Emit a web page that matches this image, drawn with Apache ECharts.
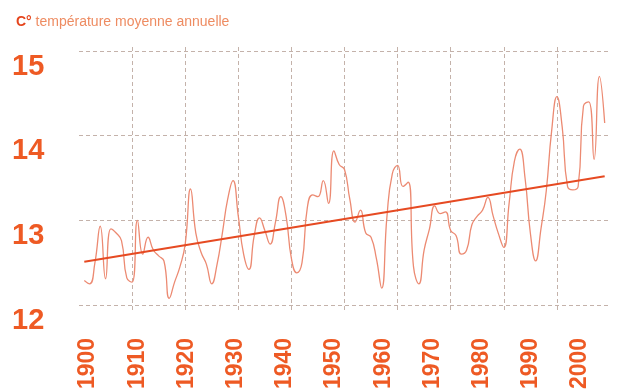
<!DOCTYPE html>
<html><head><meta charset="utf-8">
<script src="https://cdn.jsdelivr.net/npm/echarts@6/dist/echarts.min.js"></script>
<style>html,body{margin:0;padding:0;background:#fff}#c{width:619px;height:392px}</style>
</head><body><div id="c"></div>
<script>
// ---- data ----
const titleUnit = 'C°';
const titleText = ' température moyenne annuelle';
const firstYear = 1901;
const temps = [
  12.29, 12.25, 12.50, 12.93, 12.31, 12.90, 12.85, 12.76, 12.32, 12.27, // 1901-1910
  13.00, 12.60, 12.80, 12.65, 12.58, 12.52, 12.08, 12.27, 12.45, 12.72, // 1911-1920
  13.37, 12.85, 12.62, 12.48, 12.25, 12.48, 12.85, 13.25, 13.47, 13.05, // 1921-1930
  12.60, 12.42, 12.82, 13.03, 12.88, 12.72, 12.98, 13.28, 13.05, 12.55, // 1931-1940
  12.38, 12.50, 13.15, 13.30, 13.28, 13.47, 13.20, 13.82, 13.66, 13.60, // 1941-1950
  13.25, 12.98, 13.12, 12.85, 12.80, 12.55, 12.20, 13.05, 13.55, 13.65, // 1951-1960
  13.40, 13.45, 12.45, 12.25, 12.65, 12.90, 13.17, 13.08, 13.10, 12.88, // 1961-1970
  12.82, 12.60, 12.65, 12.95, 13.05, 13.12, 13.27, 13.05, 12.84, 12.68, // 1971-1980
  13.20, 13.70, 13.84, 13.50, 12.85, 12.52, 12.90, 13.35, 14.05, 14.46, // 1981-1990
  14.10, 13.40, 13.36, 13.40, 14.35, 14.40, 13.72, 14.70, 14.15         // 1991-1999
];
const trendYears = [1901, 1999];
const trendValues = [12.51, 13.52];
const xMin = 1900, xMax = 2000, xStep = 10;
const yMin = 12, yMax = 15, yStep = 1;

// ---- build ----
const years = temps.map((_, i) => firstYear + i);
const series1 = years.map((y, i) => [y, temps[i]]);
const trend = trendYears.map((y, i) => [y, trendValues[i]]);

const ORANGE = '#EE5A24';
const GRID = '#C4B2AA';
const chart = echarts.init(document.getElementById('c'), null, {renderer: 'canvas'});
chart.setOption({
  animation: false,
  backgroundColor: '#ffffff',
  title: {
    left: 11, top: 10,
    text: '{a|' + titleUnit + '}{b|' + titleText + '}',
    textStyle: {
      fontWeight: 'normal',
      rich: {
        a: {fontFamily: 'Liberation Sans, sans-serif', fontWeight: 'bold', fontSize: 14, color: '#E5441C'},
        b: {fontFamily: 'Liberation Sans, sans-serif', fontWeight: 'normal', fontSize: 14, color: '#EE8C62'}
      }
    }
  },
  grid: [
    {left: 79, right: 9, top: 51, bottom: 87},   // data + horizontal lines
    {left: 79, right: 9, top: 47, bottom: 80},   // vertical lines
    {left: 88, right: 39, top: 51, bottom: 87}   // x labels
  ],
  xAxis: [
    {gridIndex: 0, type: 'value', min: xMin, max: xMax, interval: xStep, show: false},
    {gridIndex: 1, type: 'value', min: xMin, max: xMax, interval: xStep,
      axisLine: {show: false}, axisTick: {show: false}, axisLabel: {show: false},
      splitLine: {show: true, showMinLine: false, showMaxLine: false, lineStyle: {color: GRID, type: [4, 3], width: 1}}},
    {gridIndex: 2, type: 'value', min: xMin, max: xMax, interval: xStep,
      axisLine: {show: false}, axisTick: {show: false}, splitLine: {show: false},
      axisLabel: {show: true, rotate: 90, margin: 34, color: ORANGE, fontSize: 23, fontWeight: 'bold',
        fontFamily: 'Liberation Sans, Arial, sans-serif', formatter: v => String(v)}}
  ],
  yAxis: [
    {gridIndex: 0, type: 'value', min: yMin, max: yMax, interval: yStep,
      axisLine: {show: false}, axisTick: {show: false},
      splitLine: {show: true, lineStyle: {color: GRID, type: [4, 3], width: 1}},
      axisLabel: {show: true, align: 'left', margin: 67, verticalAlign: 'top', padding: [1, 0, 0, 0], color: ORANGE,
        fontSize: 29, fontWeight: 'bold', fontFamily: 'Liberation Sans, Arial, sans-serif'}},
    {gridIndex: 1, type: 'value', min: yMin, max: yMax, show: false},
    {gridIndex: 2, type: 'value', min: yMin, max: yMax, show: false}
  ],
  series: [
    {type: 'line', xAxisIndex: 0, yAxisIndex: 0, data: series1, smooth: 0.5, showSymbol: false,
      lineStyle: {color: '#EC8A72', width: 1.3}, z: 3},
    {type: 'line', xAxisIndex: 0, yAxisIndex: 0, data: trend, showSymbol: false,
      lineStyle: {color: '#E64A22', width: 2}, z: 4}
  ]
});
</script></body></html>
